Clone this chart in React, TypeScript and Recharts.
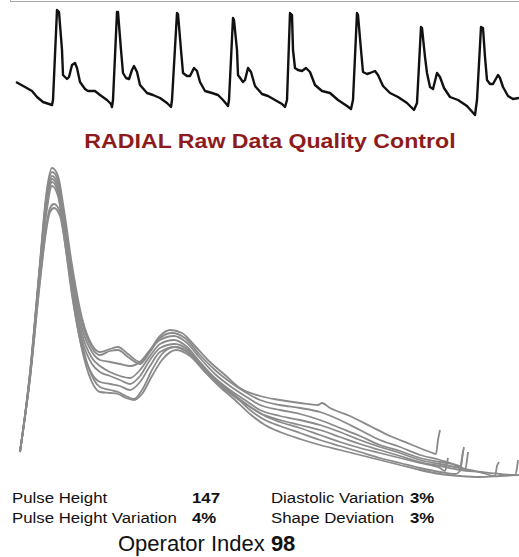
import React from "react";
import { LineChart, Line, XAxis, YAxis } from "recharts";

// Raw radial pressure trace: [time, amplitude]
const rawTrace: [number, number][] = [
  [16, 38], [25, 33], [32, 29], [37, 23], [43, 18], [52, 15], [53, 20], [57, 110], [59, 108], [62, 70], [63, 45], [67, 41], [69, 43], [72, 55], [75, 57], [77, 52], [80, 38], [85, 31], [88, 29], [95, 29], [100, 25], [107, 20], [111, 16], [112, 13], [113, 20], [117, 108],
  [118, 108], [121, 70], [123, 47], [126, 42], [129, 41], [132, 50], [134, 54], [137, 48], [140, 35], [147, 27], [153, 25], [160, 22], [167, 17], [171, 13], [172, 20], [177, 107],
  [178, 106], [181, 70], [183, 47], [187, 44], [190, 44], [194, 52], [197, 49], [200, 38], [205, 29], [212, 27], [218, 25], [223, 20], [228, 14], [229, 20], [233, 102],
  [234, 100], [237, 70], [238, 45], [243, 38], [245, 40], [248, 52], [251, 48], [255, 34], [262, 26], [268, 24], [275, 20], [282, 16], [285, 13], [287, 20], [290, 107],
  [292, 105], [293, 70], [295, 52], [298, 50], [302, 49], [306, 52], [310, 48], [315, 35], [322, 29], [330, 27], [338, 20], [347, 14], [351, 11], [353, 20], [357, 107],
  [358, 105], [361, 70], [363, 48], [367, 46], [370, 47], [375, 49], [378, 45], [383, 34], [390, 27], [398, 23], [407, 17], [414, 10], [417, 17], [421, 93],
  [422, 92], [425, 63], [427, 47], [430, 33], [433, 31], [437, 47], [440, 43], [444, 32], [450, 23], [458, 20], [467, 14], [475, 5], [477, 20], [481, 93],
  [483, 92], [485, 63], [487, 40], [490, 36], [493, 36], [498, 45], [500, 42], [503, 33], [508, 24], [513, 21], [519, 22],
];

// Overlaid single pulses: [time, amplitude]
const pulseA: [number, number][] = [
  [20, 28], [30, 108], [40, 218], [46, 284], [52, 312], [58, 304], [64, 270], [72, 215], [82, 162], [92, 135], [100, 128], [110, 131], [118, 133], [128, 126], [140, 118], [150, 130], [160, 144], [170, 150], [182, 147], [195, 134], [210, 118], [225, 105], [240, 92], [260, 84], [280, 80], [300, 77], [318, 75], [322, 77], [330, 72], [350, 64], [370, 54], [390, 44], [410, 36], [430, 28], [436, 26], [438, 40], [440, 50],
];
const pulseB: [number, number][] = [
  [20, 28], [30, 107], [40, 216], [46, 280], [52, 308], [58, 300], [64, 265], [72, 210], [82, 158], [92, 132], [100, 125], [110, 129], [118, 130], [128, 123], [140, 116], [150, 128], [160, 142], [172, 147], [185, 142], [200, 125], [215, 110], [230, 98], [245, 88], [260, 80], [280, 75], [300, 72], [320, 68], [340, 60], [360, 50], [380, 40], [400, 33], [420, 25], [440, 20], [455, 15], [460, 12], [462, 22], [464, 33],
];
const pulseC: [number, number][] = [
  [20, 28], [30, 106], [40, 214], [46, 276], [52, 304], [58, 296], [64, 260], [72, 204], [82, 152], [92, 128], [100, 120], [110, 118], [120, 116], [130, 114], [140, 118], [150, 130], [160, 140], [174, 144], [186, 138], [200, 122], [215, 106], [230, 94], [245, 84], [260, 75], [280, 70], [300, 66], [320, 60], [340, 52], [360, 44], [380, 35], [400, 29], [420, 22], [440, 18], [460, 14], [465, 10], [467, 20], [468, 28],
];
const pulseD: [number, number][] = [
  [20, 28], [30, 105], [40, 212], [46, 272], [52, 301], [58, 292], [64, 255], [72, 198], [82, 146], [92, 122], [100, 114], [110, 108], [120, 104], [130, 102], [140, 110], [150, 124], [160, 136], [174, 140], [186, 134], [200, 118], [215, 102], [230, 90], [245, 80], [260, 70], [280, 64], [300, 60], [320, 55], [340, 48], [360, 40], [380, 33], [400, 27], [420, 20], [440, 16], [460, 12], [480, 8], [495, 4], [497, 14], [499, 18],
];
const pulseE: [number, number][] = [
  [20, 28], [30, 104], [40, 210], [46, 268], [52, 298], [58, 288], [64, 250], [72, 192], [82, 140], [92, 116], [100, 108], [110, 104], [120, 100], [130, 96], [140, 104], [150, 120], [160, 132], [175, 136], [188, 130], [200, 116], [215, 100], [230, 88], [245, 77], [260, 67], [280, 60], [300, 55], [320, 50], [340, 43], [360, 36], [380, 30], [400, 24], [420, 18], [440, 14], [460, 10], [480, 8], [500, 6], [515, 5], [517, 12], [518, 20],
];
const pulseF: [number, number][] = [
  [20, 28], [30, 103], [40, 208], [46, 264], [52, 294], [58, 284], [64, 244], [72, 185], [82, 132], [92, 106], [100, 98], [110, 96], [120, 94], [130, 90], [140, 98], [150, 114], [160, 128], [176, 133], [190, 126], [205, 110], [220, 95], [235, 83], [250, 73], [265, 64], [280, 58], [300, 52], [320, 45], [340, 38], [360, 32], [380, 27], [400, 22], [420, 17], [440, 12], [445, 9], [447, 17], [448, 22],
];
const pulseG: [number, number][] = [
  [20, 28], [30, 102], [40, 200], [46, 252], [50, 272], [54, 276], [60, 268], [66, 235], [74, 180], [84, 128], [94, 100], [100, 93], [110, 90], [118, 88], [126, 84], [134, 81], [142, 90], [152, 110], [162, 126], [174, 133], [188, 128], [202, 114], [218, 98], [234, 85], [250, 70], [265, 60], [280, 54], [300, 47], [320, 40], [340, 34], [360, 28], [380, 22], [400, 17], [420, 12], [440, 8], [455, 6], [460, 9], [462, 20], [463, 30],
];
const pulseH: [number, number][] = [
  [20, 28], [30, 101], [40, 198], [46, 248], [50, 268], [54, 272], [60, 264], [66, 230], [74, 174], [84, 122], [94, 94], [100, 88], [110, 87], [118, 86], [126, 82], [134, 80], [142, 86], [152, 104], [162, 120], [176, 130], [190, 124], [205, 108], [220, 93], [235, 80], [250, 66], [265, 55], [280, 48], [300, 41], [320, 35], [340, 30], [360, 25], [380, 20], [400, 15], [420, 10], [440, 6], [460, 4], [480, 3], [500, 4], [519, 5],
];
const pulses = [pulseA, pulseB, pulseC, pulseD, pulseE, pulseF, pulseG, pulseH];

const titleText = "RADIAL Raw Data Quality Control";
const statLabels = ["Pulse Height", "Pulse Height Variation", "Diastolic Variation", "Shape Deviation"];
const statValues = ["147", "4%", "3%", "3%"];
const operatorLabel = "Operator Index";
const operatorValue = "98";

const toRows = (pts: [number, number][]) => pts.map(([t, v]) => ({ t, v }));

const FONT = "'Liberation Sans', Arial, sans-serif";
const SX = 1.12;

function Stretched({ x, y, s, children, ...rest }: any) {
  return (
    <text x={x / s} y={y} transform={`scale(${s},1)`} {...rest}>
      {children}
    </text>
  );
}

export default function App() {
  return (
    <div style={{ position: "absolute", left: 0, top: 0, width: 519, height: 557, overflow: "hidden", background: "#fff" }}>
      <div style={{ position: "absolute", left: 10, top: -10, width: 520, height: 12, border: "1px solid #a8a8a8", boxSizing: "border-box" }} />
      <div style={{ position: "absolute", left: 0, top: 0 }}>
        <LineChart width={519} height={120} data={toRows(rawTrace)} margin={{ top: 0, right: 0, bottom: 0, left: 0 }}>
          <XAxis dataKey="t" type="number" domain={[0, 519]} hide allowDataOverflow />
          <YAxis type="number" domain={[0, 120]} hide allowDataOverflow />
          <Line dataKey="v" type="linear" stroke="#111" strokeWidth={2.4} dot={false} activeDot={false} isAnimationActive={false} strokeLinejoin="round" />
        </LineChart>
      </div>
      <div style={{ position: "absolute", left: 0, top: 160 }}>
        <LineChart width={519} height={320} margin={{ top: 0, right: 0, bottom: 0, left: 0 }}>
          <XAxis dataKey="t" type="number" domain={[0, 519]} hide allowDataOverflow />
          <YAxis type="number" domain={[0, 320]} hide allowDataOverflow />
          {pulses.map((p, i) => (
            <Line key={i} data={toRows(p)} dataKey="v" type="monotone" stroke="#8a8a8a" strokeWidth={1.8} dot={false} activeDot={false} isAnimationActive={false} />
          ))}
        </LineChart>
      </div>
      <svg width={519} height={557} style={{ position: "absolute", left: 0, top: 0, pointerEvents: "none" }}>
        <Stretched x={270} y={148} s={1.13} textAnchor="middle" fontFamily={FONT} fontWeight="bold" fontSize={20.5} fill="#8e1b1b">{titleText}</Stretched>
        <g fontFamily={FONT} fontSize={15} fill="#111">
          <Stretched x={12} y={503} s={SX}>{statLabels[0]}</Stretched>
          <Stretched x={192} y={503} s={SX} fontWeight="bold">{statValues[0]}</Stretched>
          <Stretched x={12} y={523} s={SX}>{statLabels[1]}</Stretched>
          <Stretched x={192} y={523} s={SX} fontWeight="bold">{statValues[1]}</Stretched>
          <Stretched x={271} y={503} s={SX}>{statLabels[2]}</Stretched>
          <Stretched x={410} y={503} s={SX} fontWeight="bold">{statValues[2]}</Stretched>
          <Stretched x={271} y={523} s={SX}>{statLabels[3]}</Stretched>
          <Stretched x={410} y={523} s={SX} fontWeight="bold">{statValues[3]}</Stretched>
        </g>
        <text x={118} y={551} fontFamily={FONT} fontSize={22} fill="#111">
          {operatorLabel} <tspan fontWeight="bold">{operatorValue}</tspan>
        </text>
      </svg>
    </div>
  );
}
